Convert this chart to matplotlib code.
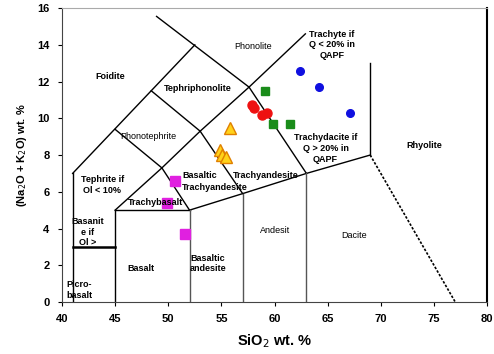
import matplotlib
matplotlib.use("Agg")
import matplotlib.pyplot as plt

plt.rcParams['font.family'] = ['Liberation Sans', 'DejaVu Sans']

# Sample data (SiO2, Na2O+K2O)
blue_x = [62.4, 64.2, 67.1]
blue_y = [12.6, 11.7, 10.3]
green_x = [59.1, 59.9, 61.5]
green_y = [11.5, 9.7, 9.7]
red_x = [57.9, 58.1, 58.8, 59.3]
red_y = [10.75, 10.55, 10.2, 10.3]
yellow_x = [55.8, 54.9, 55.1, 55.4]
yellow_y = [9.45, 8.25, 8.0, 7.9]
magenta_x = [50.6, 49.9, 51.6]
magenta_y = [6.6, 5.4, 3.7]

x_ticks = [40, 45, 50, 55, 60, 65, 70, 75, 80]
y_ticks = [0, 2, 4, 6, 8, 10, 12, 14, 16]

# TAS field boundaries (polylines)
boundaries = [
    ([41, 41], [0, 7]),
    ([45, 45], [0, 5]),
    ([45, 52], [5, 5]),
    ([41, 52.5], [7, 14]),
    ([48.9, 57.6], [15.55, 11.7]),
    ([45, 49.4, 52], [5, 7.3, 5]),
    ([45, 49.4], [9.4, 7.3]),
    ([49.4, 53], [7.3, 9.3]),
    ([48.4, 53, 57, 63], [11.5, 9.3, 5.9, 7]),
    ([53, 57.6], [9.3, 11.7]),
    ([57.6, 62.9], [11.7, 14.6]),
    ([57.6, 63], [11.7, 7]),
    ([52, 57], [5, 5.9]),
    ([63, 69], [7, 8]),
    ([69, 69], [8, 13]),
]
gray_boundaries = [
    ([52, 52], [0, 5]),
    ([57, 57], [0, 5.9]),
    ([63, 63], [0, 7]),
]

fig = plt.figure(figsize=(4.94, 3.54), dpi=100)
ax = fig.add_axes([0.1255, 0.147, 0.8605, 0.83])

for xs, ys in boundaries:
    ax.plot(xs, ys, color='black', lw=1.0, zorder=2)
for xs, ys in gray_boundaries:
    ax.plot(xs, ys, color='#555555', lw=1.0, zorder=2)
ax.plot([41, 45], [3, 3], color='black', lw=1.8, zorder=2)
ax.plot([69, 77], [8, 0], color='black', lw=1.2, ls=(0, (1.5, 1)), zorder=2)

ax.plot(blue_x, blue_y, 'o', color='#1010e0', ms=5.5, zorder=3)
ax.plot(green_x, green_y, 's', color='#1a8c1a', ms=5.5, zorder=3)
ax.plot(red_x, red_y, 'o', color='#ee1111', ms=6.5, zorder=3)
ax.plot(yellow_x, yellow_y, '^', color='#ffd21a', mec='#e08000', mew=1.0, ms=8, zorder=3)
ax.plot(magenta_x, magenta_y, 's', color='#e020e0', ms=6.5, zorder=3)

fs = 6.5
labels = [
    (44.5, 12.3, 'Foidite', 'center', 'bold'),
    (58.0, 13.9, 'Phonolite', 'center', 'normal'),
    (52.8, 11.6, 'Tephriphonolite', 'center', 'bold'),
    (48.1, 9.0, 'Phonotephrite', 'center', 'normal'),
    (43.8, 6.35, 'Tephrite if\nOl < 10%', 'center', 'bold'),
    (42.4, 3.8, 'Basanit\ne if\nOl >', 'center', 'bold'),
    (41.6, 0.65, 'Picro-\nbasalt', 'center', 'bold'),
    (47.4, 1.8, 'Basalt', 'center', 'bold'),
    (53.7, 2.1, 'Basaltic\nandesite', 'center', 'bold'),
    (60.1, 3.9, 'Andesit', 'center', 'normal'),
    (67.5, 3.6, 'Dacite', 'center', 'normal'),
    (74.1, 8.5, 'Rhyolite', 'center', 'bold'),
    (64.8, 8.35, 'Trachydacite if\nQ > 20% in\nQAPF', 'center', 'bold'),
    (65.4, 14.0, 'Trachyte if\nQ < 20% in\nQAPF', 'center', 'bold'),
    (48.8, 5.4, 'Trachybasalt', 'center', 'bold'),
]
for x, y, t, ha, w in labels:
    ax.text(x, y, t, fontsize=fs, ha=ha, va='center', fontweight=w,
            linespacing=1.25, zorder=4)
ax.text(51.3, 6.88, 'Basaltic', fontsize=fs, ha='left', va='center',
        fontweight='bold', zorder=4)
ax.text(51.3, 6.25, 'Trachyandesite', fontsize=fs, ha='left', va='center',
        fontweight='bold', zorder=4)
ax.text(56.1, 6.9, 'Trachyandesite', fontsize=fs, ha='left', va='center',
        fontweight='bold', zorder=4)

ax.set_xlim(40, 80)
ax.set_ylim(0, 16)
ax.set_xticks(x_ticks)
ax.set_yticks(y_ticks)
ax.tick_params(axis='both', labelsize=8, length=3, direction='out', pad=6)
for lab in ax.get_xticklabels() + ax.get_yticklabels():
    lab.set_fontweight('bold')
ax.set_xlabel('SiO$_2$ wt. %', fontsize=10.5, fontweight='bold', labelpad=6)
ax.set_ylabel('(Na$_2$O + K$_2$O) wt. %', fontsize=8, fontweight='bold', labelpad=6)

ax.spines['top'].set_color('#aaaaaa')
ax.spines['right'].set_color('black')
ax.spines['right'].set_linewidth(1.5)
ax.spines['left'].set_color('#444444')
ax.spines['bottom'].set_color('#444444')

fig.savefig('out.png', dpi=100)
